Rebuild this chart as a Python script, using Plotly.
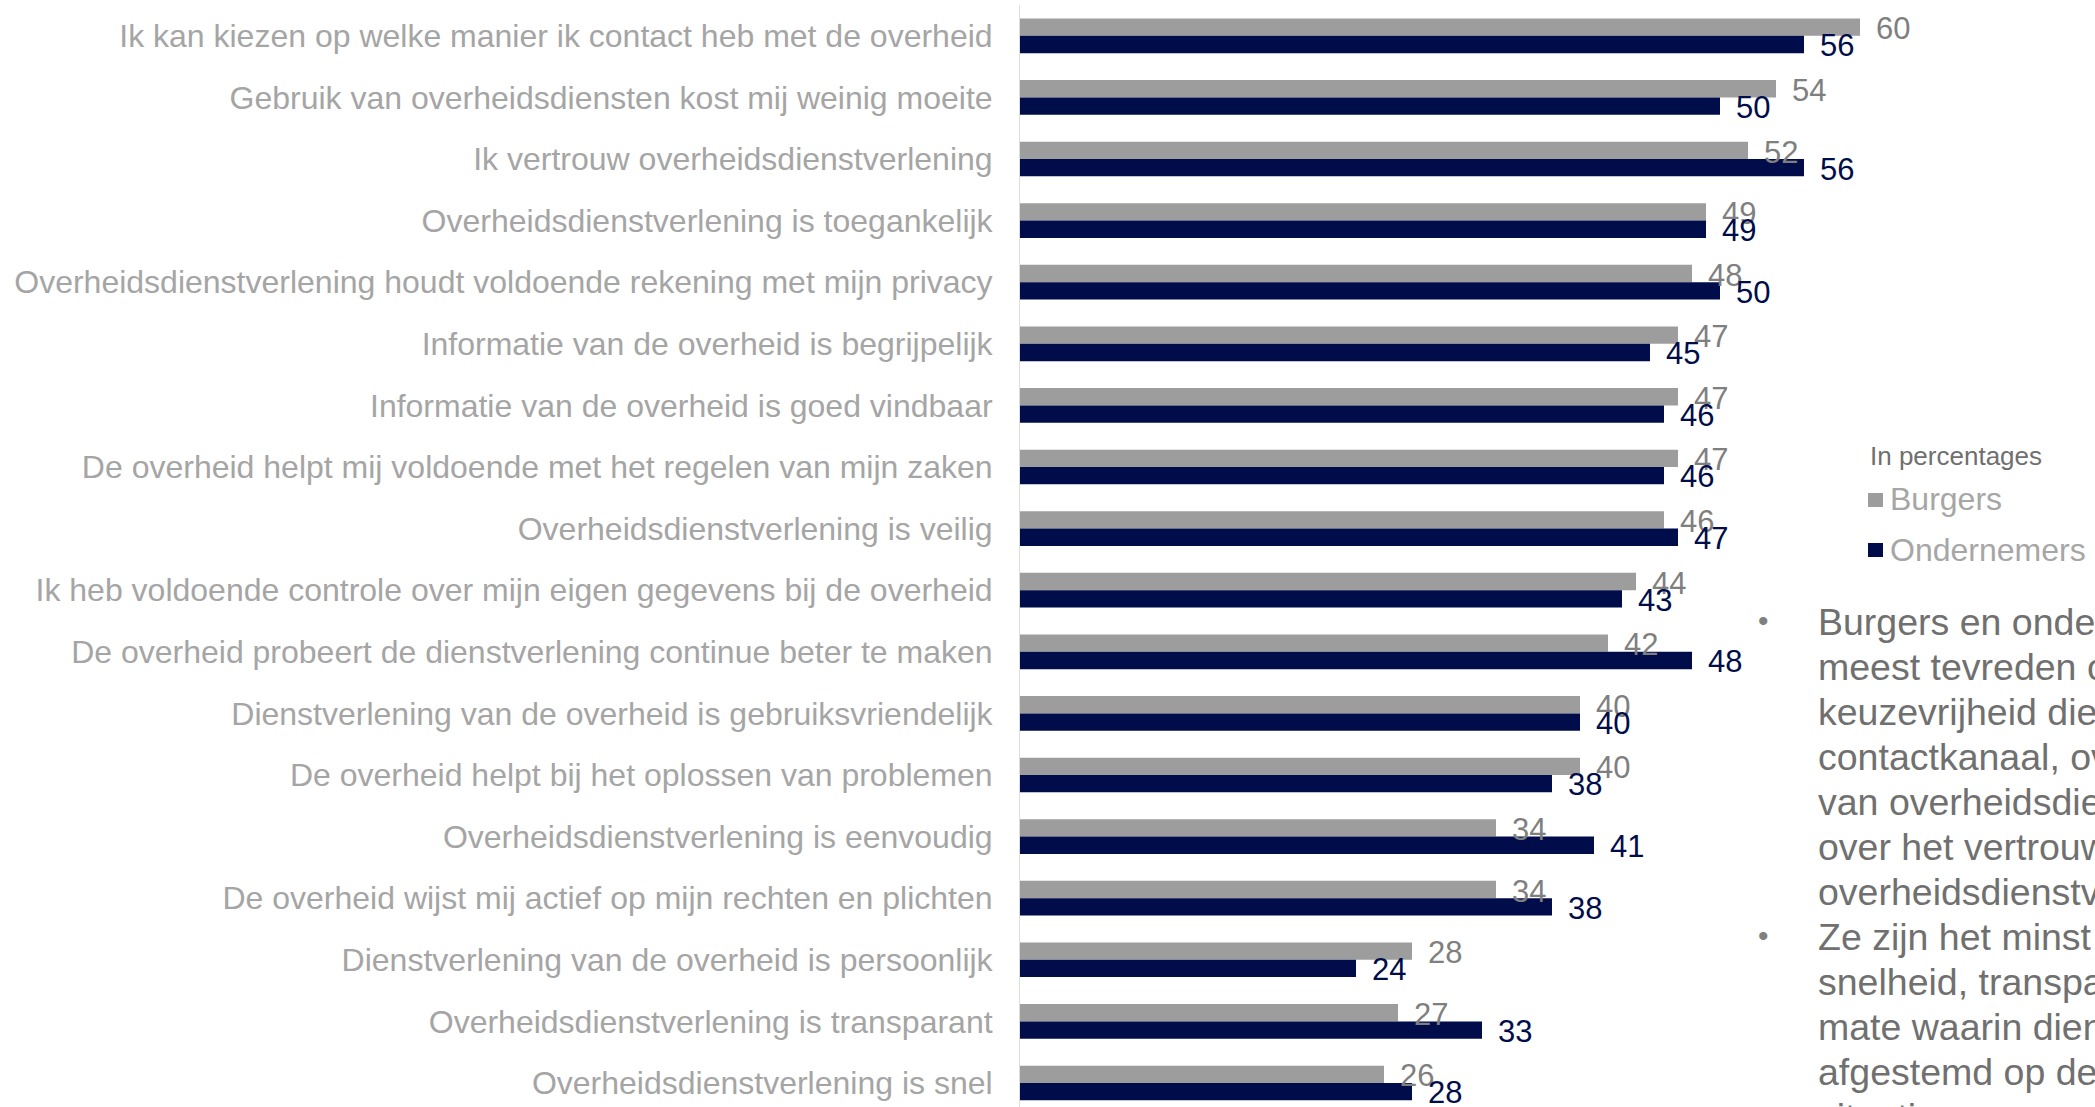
import plotly.graph_objects as go

categories = [
    "Ik kan kiezen op welke manier ik contact heb met de overheid",
    "Gebruik van overheidsdiensten kost mij weinig moeite",
    "Ik vertrouw overheidsdienstverlening",
    "Overheidsdienstverlening is toegankelijk",
    "Overheidsdienstverlening houdt voldoende rekening met mijn privacy",
    "Informatie van de overheid is begrijpelijk",
    "Informatie van de overheid is goed vindbaar",
    "De overheid helpt mij voldoende met het regelen van mijn zaken",
    "Overheidsdienstverlening is veilig",
    "Ik heb voldoende controle over mijn eigen gegevens bij de overheid",
    "De overheid probeert de dienstverlening continue beter te maken",
    "Dienstverlening van de overheid is gebruiksvriendelijk",
    "De overheid helpt bij het oplossen van problemen",
    "Overheidsdienstverlening is eenvoudig",
    "De overheid wijst mij actief op mijn rechten en plichten",
    "Dienstverlening van de overheid is persoonlijk",
    "Overheidsdienstverlening is transparant",
    "Overheidsdienstverlening is snel",
]
burgers = [60, 54, 52, 49, 48, 47, 47, 47, 46, 44, 42, 40, 40, 34, 34, 28, 27, 26]
ondernemers = [56, 50, 56, 49, 50, 45, 46, 46, 47, 43, 48, 40, 38, 41, 38, 24, 33, 28]

series_names = ["Burgers", "Ondernemers"]
legend_title = "In percentages"
bullet_lines_1 = [
    "Burgers en ondernemers zijn het",
    "meest tevreden over de",
    "keuzevrijheid die zij hebben in het",
    "contactkanaal, over het gemak",
    "van overheidsdiensten en",
    "over het vertrouwen in",
    "overheidsdienstverlening.",
]
bullet_lines_2 = [
    "Ze zijn het minst tevreden over de",
    "snelheid, transparantie en de",
    "mate waarin dienstverlening is",
    "afgestemd op de persoonlijke",
    "situatie.",
]

GRAY = "#9d9d9d"
NAVY = "#000d4a"
FONT = "Liberation Sans, Arial, sans-serif"

W, H = 2095, 1107
ML, MR, MT, MB = 1020, 95, 5, 0
PW = W - ML - MR
PH = H - MT - MB


def px(xp):
    return (xp - ML) / PW


def py(yp):
    return 1 - (yp - MT) / PH


fig = go.Figure()
fig.add_trace(go.Bar(
    y=categories, x=burgers, name=series_names[0], orientation="h",
    marker=dict(color=GRAY, line=dict(width=0)),
))
fig.add_trace(go.Bar(
    y=categories, x=ondernemers, name=series_names[1], orientation="h",
    marker=dict(color=NAVY, line=dict(width=0)),
))

annotations = []
for cat, b, o in zip(categories, burgers, ondernemers):
    annotations.append(dict(
        x=b, y=cat, xref="x", yref="y", text=str(b), showarrow=False,
        xanchor="left", yanchor="middle", xshift=14, yshift=7,
        font=dict(family=FONT, size=31, color="#7f7f7f"),
    ))
    annotations.append(dict(
        x=o, y=cat, xref="x", yref="y", text=str(o), showarrow=False,
        xanchor="left", yanchor="middle", xshift=14, yshift=-10,
        font=dict(family=FONT, size=31, color=NAVY),
    ))

# legend (drawn manually)
annotations.append(dict(
    x=px(1868), y=py(456), xref="paper", yref="paper", text=legend_title,
    showarrow=False, xanchor="left", yanchor="middle",
    font=dict(family=FONT, size=26, color="#6f6f6f"),
))
annotations.append(dict(
    x=px(1888), y=py(499), xref="paper", yref="paper", text=series_names[0],
    showarrow=False, xanchor="left", yanchor="middle",
    font=dict(family=FONT, size=32, color="#a6a6a6"),
))
annotations.append(dict(
    x=px(1888), y=py(550), xref="paper", yref="paper", text=series_names[1],
    showarrow=False, xanchor="left", yanchor="middle",
    font=dict(family=FONT, size=32, color="#a6a6a6"),
))
shapes = [
    dict(type="rect", xref="paper", yref="paper", x0=px(1868), x1=px(1883),
         y0=py(507), y1=py(493), fillcolor=GRAY, line=dict(width=0)),
    dict(type="rect", xref="paper", yref="paper", x0=px(1868), x1=px(1883),
         y0=py(557), y1=py(543), fillcolor=NAVY, line=dict(width=0)),
]

# bullet text, one annotation per line
TXT = "#707070"
all_lines = bullet_lines_1 + bullet_lines_2
for i, line in enumerate(all_lines):
    annotations.append(dict(
        x=px(1816), y=py(622 + 45 * i), xref="paper", yref="paper",
        text=line, showarrow=False, xanchor="left", yanchor="middle",
        align="left", font=dict(family=FONT, size=37.5, color=TXT),
    ))
for i in (0, len(bullet_lines_1)):
    annotations.append(dict(
        x=px(1763), y=py(620 + 45 * i), xref="paper", yref="paper", text="•",
        showarrow=False, xanchor="center", yanchor="middle",
        font=dict(family=FONT, size=30, color="#808080"),
    ))

fig.update_layout(
    width=W, height=H,
    margin=dict(l=ML, r=MR, t=MT, b=MB, pad=0),
    paper_bgcolor="white", plot_bgcolor="white",
    barmode="group", bargap=0.437, bargroupgap=0,
    showlegend=False,
    font=dict(family=FONT),
    annotations=annotations,
    shapes=shapes,
    xaxis=dict(range=[0, 70], visible=False, fixedrange=True),
    yaxis=dict(
        type="category", categoryorder="array", categoryarray=categories,
        range=[17.39, -0.5], showline=True, linecolor="#dedede", linewidth=1,
        showgrid=False, zeroline=False, ticks="", ticklabelstandoff=20,
        tickfont=dict(family=FONT, size=32, color="#a5a5a5"),
        automargin=False, fixedrange=True,
    ),
)

fig.write_html(
    "out.html",
    config={"displayModeBar": False},
    post_script="document.body.style.margin='0';document.body.style.overflow='hidden';",
)
